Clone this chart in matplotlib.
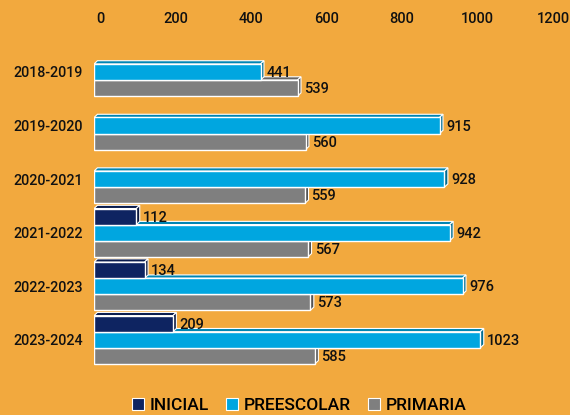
import matplotlib.pyplot as plt
import matplotlib.colors as mc
import matplotlib.transforms as mtransforms
from matplotlib.patches import Polygon, Rectangle
from matplotlib.lines import Line2D

plt.rcParams['font.family'] = ['Roboto', 'DejaVu Sans']

periodos = ['2018-2019', '2019-2020', '2020-2021', '2021-2022', '2022-2023', '2023-2024']
inicial = [0, 0, 0, 112, 134, 209]
preescolar = [441, 915, 928, 942, 976, 1023]
primaria = [539, 560, 559, 567, 573, 585]

series = [
    ('INICIAL', inicial, '#0e2461', -0.3),
    ('PREESCOLAR', preescolar, '#00a6e0', 0.0),
    ('PRIMARIA', primaria, '#7f7f7f', 0.3),
]

bg = '#f2a93e'
txt = '#111111'
h = 0.3      # grosor de barra
dx = 9       # profundidad en x (unidades de datos)
dy = 0.06    # profundidad en y


def shade(c, f):
    r, g, b = mc.to_rgb(c)
    return (r * f, g * f, b * f)


fig = plt.figure(figsize=(5.7, 4.15), dpi=100, facecolor=bg)
ax = fig.add_axes([0.165, 0.104, 0.795, 0.800], facecolor=bg)

# de abajo hacia arriba para que las barras superiores tapen las caras de las inferiores
for k in range(len(periodos) - 1, -1, -1):
    for idx in [2, 1, 0]:
        name, vals, col, off = series[idx]
        w = vals[k]
        if w <= 0:
            continue
        y = k + off
        z = 10 + k * 3 + (3 - idx)
        top = y - h / 2
        bot = y + h / 2
        ax.add_patch(Polygon([(0, top), (w, top), (w + dx, top - dy), (dx, top - dy)],
                             closed=True, facecolor=shade(col, 0.8), edgecolor='white',
                             linewidth=0.8, zorder=z))
        ax.add_patch(Polygon([(w, top), (w + dx, top - dy), (w + dx, bot - dy), (w, bot)],
                             closed=True, facecolor=shade(col, 0.65), edgecolor='white',
                             linewidth=0.8, zorder=z))
        ax.add_patch(Rectangle((0, top), w, h, facecolor=col, edgecolor='white',
                               linewidth=1.0, zorder=z))
        ax.text(w + dx + 8, y + 0.02, str(w), va='center', ha='left', fontsize=10.5,
                fontweight='medium', color=txt, zorder=50)

ax.set_xlim(0, 1200)
ax.set_ylim(5.6, -0.6)
ax.set_xticks([0, 200, 400, 600, 800, 1000, 1200])
ax.xaxis.tick_top()
ax.set_yticks(range(len(periodos)))
ax.set_yticklabels(periodos)
ax.tick_params(axis='x', length=0, labelsize=10.5, pad=10, colors=txt)
ax.tick_params(axis='y', length=0, labelsize=10.3, pad=8, colors=txt)
shift = mtransforms.ScaledTranslation(6 / 100, 0, fig.dpi_scale_trans)
for lab in ax.get_xticklabels():
    lab.set_transform(lab.get_transform() + shift)
    lab.set_fontweight('medium')
for lab in ax.get_yticklabels():
    lab.set_fontweight('medium')
for s in ax.spines.values():
    s.set_visible(False)

handles = [Line2D([], [], marker='s', linestyle='none', markersize=9, markerfacecolor=c,
                  markeredgecolor='white', markeredgewidth=0.8) for _, _, c, _ in series]
fig.legend(handles, [s[0] for s in series], loc='center', bbox_to_anchor=(0.525, 0.022),
           ncol=3, frameon=False, prop={'size': 12.5, 'weight': 'medium'},
           handlelength=0.7, handletextpad=0.3, columnspacing=1.0, borderpad=0.1)

fig.savefig('out.png', dpi=100, facecolor=bg)
